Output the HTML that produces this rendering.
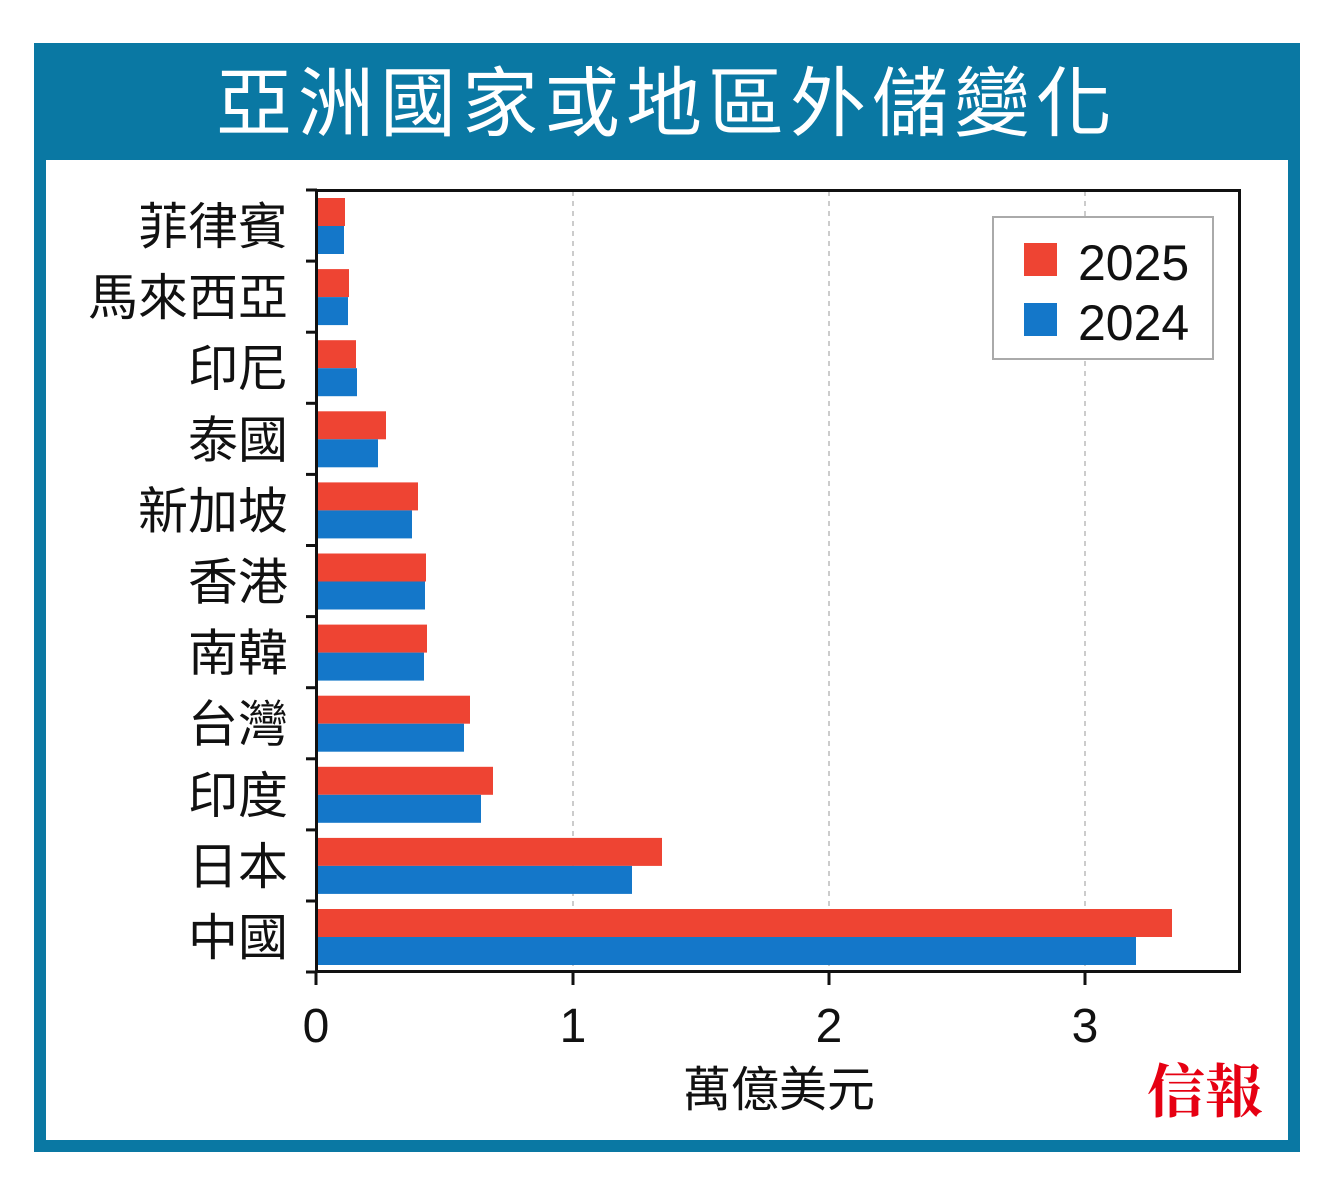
<!DOCTYPE html>
<html><head><meta charset="utf-8"><style>
body{margin:0;background:#fff;}
svg{display:block;}
text{font-family:"Liberation Sans","Noto Sans CJK TC",sans-serif;}
.c{font-family:"Noto Sans CJK TC",sans-serif;}
</style></head><body>
<svg width="1333" height="1191" viewBox="0 0 1333 1191">
<rect x="34" y="43" width="1266" height="1109" fill="#0a78a3"/>
<rect x="46" y="160" width="1242" height="980" fill="#fff"/>
<text x="667" y="130" fill="#fff" font-size="76" text-anchor="middle" letter-spacing="6" class="c">亞洲國家或地區外儲變化</text>
<g stroke="#aaa" stroke-width="1.2" stroke-dasharray="5,5">
<line x1="573" y1="191" x2="573" y2="971"/><line x1="829" y1="191" x2="829" y2="971"/><line x1="1085" y1="191" x2="1085" y2="971"/>
</g>
<g fill="#ee4433">
<rect x="317" y="198" width="28" height="28"/>
<rect x="317" y="269.1" width="32" height="28"/>
<rect x="317" y="340.2" width="39" height="28"/>
<rect x="317" y="411.3" width="69" height="28"/>
<rect x="317" y="482.4" width="101" height="28"/>
<rect x="317" y="553.5" width="109" height="28"/>
<rect x="317" y="624.6" width="110" height="28"/>
<rect x="317" y="695.7" width="153" height="28"/>
<rect x="317" y="766.8" width="176" height="28"/>
<rect x="317" y="837.9" width="345" height="28"/>
<rect x="317" y="909" width="855" height="28"/>
</g>
<g fill="#1477c9">
<rect x="317" y="226" width="27" height="28"/>
<rect x="317" y="297.1" width="31" height="28"/>
<rect x="317" y="368.2" width="40" height="28"/>
<rect x="317" y="439.3" width="61" height="28"/>
<rect x="317" y="510.4" width="95" height="28"/>
<rect x="317" y="581.5" width="108" height="28"/>
<rect x="317" y="652.6" width="107" height="28"/>
<rect x="317" y="723.7" width="147" height="28"/>
<rect x="317" y="794.8" width="164" height="28"/>
<rect x="317" y="865.9" width="315" height="28"/>
<rect x="317" y="937" width="819" height="28"/>
</g>
<g stroke="#111" stroke-width="3">
<line x1="306" y1="261.1" x2="317" y2="261.1"/><line x1="306" y1="332.2" x2="317" y2="332.2"/>
<line x1="306" y1="403.3" x2="317" y2="403.3"/><line x1="306" y1="474.4" x2="317" y2="474.4"/>
<line x1="306" y1="545.5" x2="317" y2="545.5"/><line x1="306" y1="616.6" x2="317" y2="616.6"/>
<line x1="306" y1="687.7" x2="317" y2="687.7"/><line x1="306" y1="758.8" x2="317" y2="758.8"/>
<line x1="306" y1="829.9" x2="317" y2="829.9"/><line x1="306" y1="901" x2="317" y2="901"/>
<line x1="306" y1="190" x2="317" y2="190"/><line x1="306" y1="972" x2="317" y2="972"/>
</g>
<g font-size="50" fill="#111" text-anchor="end" class="c">
<text x="288" y="244">菲律賓</text>
<text x="288" y="315.1">馬來西亞</text>
<text x="288" y="386.2">印尼</text>
<text x="288" y="457.3">泰國</text>
<text x="288" y="528.4">新加坡</text>
<text x="288" y="599.5">香港</text>
<text x="288" y="670.6">南韓</text>
<text x="288" y="741.7">台灣</text>
<text x="288" y="812.8">印度</text>
<text x="288" y="883.9">日本</text>
<text x="288" y="955">中國</text>
</g>
<rect x="993" y="217" width="220" height="142" fill="#fff" stroke="#aaa" stroke-width="2"/>
<rect x="1024" y="243" width="33" height="33" fill="#ee4433"/>
<rect x="1024" y="303" width="33" height="33" fill="#1477c9"/>
<text x="1078" y="280" font-size="50" fill="#111">2025</text>
<text x="1078" y="340" font-size="50" fill="#111">2024</text>
<rect x="316.5" y="190.5" width="923" height="781" fill="none" stroke="#111" stroke-width="3"/>
<g stroke="#111" stroke-width="3">
<line x1="316" y1="972" x2="316" y2="985"/><line x1="573" y1="972" x2="573" y2="985"/><line x1="829" y1="972" x2="829" y2="985"/><line x1="1085" y1="972" x2="1085" y2="985"/>
</g>
<g font-size="48" fill="#111" text-anchor="middle">
<text x="316" y="1042">0</text><text x="573" y="1042">1</text><text x="829" y="1042">2</text><text x="1085" y="1042">3</text>
</g>
<text x="779" y="1106" font-size="48" fill="#111" text-anchor="middle" class="c">萬億美元</text>
<text x="1205" y="1112" font-size="58" fill="#e60012" font-weight="bold" text-anchor="middle" style="font-family:'Noto Serif CJK SC',serif">信報</text>
</svg>
</body></html>
